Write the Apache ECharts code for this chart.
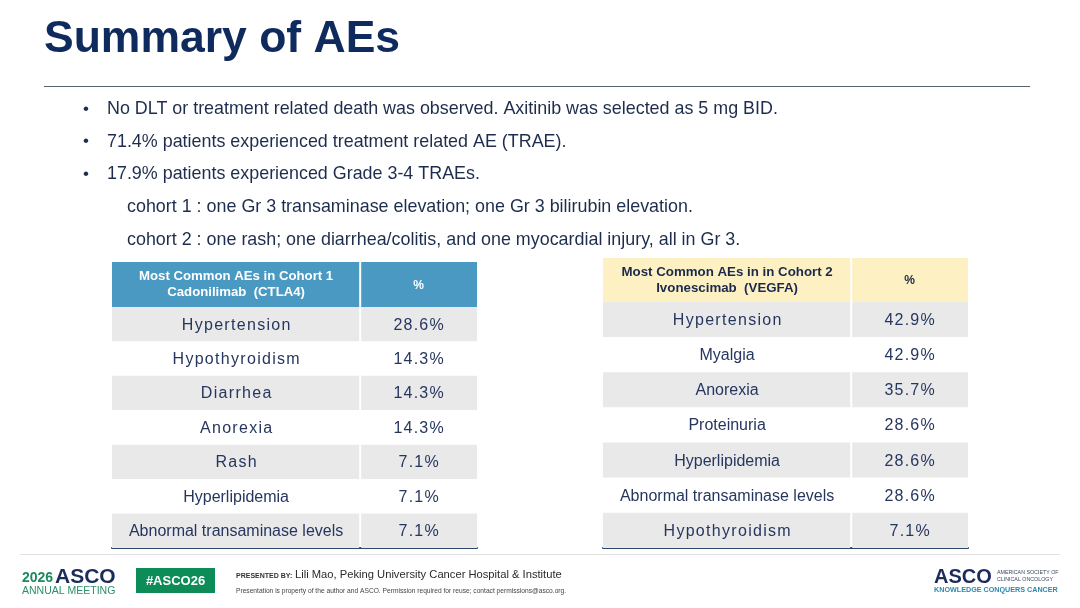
<!DOCTYPE html>
<html>
<head>
<meta charset="utf-8">
<title>Summary of AEs</title>
<script src="https://cdn.jsdelivr.net/npm/echarts@6.0.0/dist/echarts.min.js"></script>
<style>
  html, body { margin: 0; padding: 0; background: #ffffff; }
  #main { width: 1080px; height: 608px; }
</style>
</head>
<body>
<div id="main"></div>
<script>
// data
const bullets = [
  'No DLT or treatment related death was observed. Axitinib was selected as 5 mg BID.',
  '71.4% patients experienced treatment related AE (TRAE).',
  '17.9% patients experienced Grade 3-4 TRAEs.'
];
const subLines = [
  'cohort 1 : one Gr 3 transaminase elevation; one Gr 3 bilirubin elevation.',
  'cohort 2 : one rash; one diarrhea/colitis, and one myocardial injury, all in Gr 3.'
];

const cohort1Header = ['Most Common AEs in Cohort 1', 'Cadonilimab  (CTLA4)'];
const cohort1Names = ['Hypertension', 'Hypothyroidism', 'Diarrhea', 'Anorexia', 'Rash', 'Hyperlipidemia', 'Abnormal transaminase levels'];
const cohort1Pct = [28.6, 14.3, 14.3, 14.3, 7.1, 7.1, 7.1];

const cohort2Header = ['Most Common AEs in in Cohort 2', 'Ivonescimab  (VEGFA)'];
const cohort2Names = ['Hypertension', 'Myalgia', 'Anorexia', 'Proteinuria', 'Hyperlipidemia', 'Abnormal transaminase levels', 'Hypothyroidism'];
const cohort2Pct = [42.9, 42.9, 35.7, 28.6, 28.6, 28.6, 7.1];

// rows typed with wider letter spacing on the slide (style only)
const spaced1 = ['Hypertension', 'Hypothyroidism', 'Diarrhea', 'Anorexia', 'Rash'];
const spaced2 = ['Hypertension', 'Hypothyroidism'];

const FONT = "'Liberation Sans', Arial, sans-serif";
const NAVY = '#0f2a5c';
const TXT = '#1e2d4d';
const CELL_TXT = '#26365e';
const CELL_FONT = '16px ' + FONT;
const COL_SPLIT = 0.68; // first column share of table width

var chart = echarts.init(document.getElementById('main'), null, { renderer: 'canvas' });

var measureCtx = document.createElement('canvas').getContext('2d');

// centred text with extra letter spacing, one glyph per element
function spacedText(str, cx, cy, font, fill, spacing) {
  measureCtx.font = font;
  var chars = str.split('');
  var widths = chars.map(function (ch) { return measureCtx.measureText(ch).width; });
  var total = widths.reduce(function (a, b) { return a + b; }, 0) + spacing * (chars.length - 1);
  var x = cx - total / 2;
  var out = [];
  chars.forEach(function (ch, i) {
    out.push({ type: 'text', style: { text: ch, x: x, y: cy, align: 'left', verticalAlign: 'middle', font: font, fill: fill } });
    x += widths[i] + spacing;
  });
  return { type: 'group', children: out };
}

function plainText(str, cx, cy, font, fill) {
  return { type: 'text', style: { text: str, x: cx, y: cy, align: 'center', verticalAlign: 'middle', font: font, fill: fill } };
}

// one table row: two cells + two labels
function rowRenderer(names, spacedList) {
  return function (params, api) {
    var idx = api.value(1);
    var left = api.coord([0, idx]);
    var mid = api.coord([COL_SPLIT, idx]);
    var right = api.coord([1, idx]);
    var h = api.size([0, 1])[1];
    var yTop = left[1] - h / 2;
    var yc = left[1] + 1;
    var fill = idx % 2 === 0 ? '#e9e9e9' : '#ffffff';
    var name = names[idx];
    var nameX = (left[0] + mid[0]) / 2;
    var nameEl = spacedList.indexOf(name) >= 0
      ? spacedText(name, nameX, yc, CELL_FONT, CELL_TXT, 1.3)
      : plainText(name, nameX, yc, CELL_FONT, CELL_TXT);
    return {
      type: 'group',
      children: [
        { type: 'rect', shape: { x: left[0], y: yTop, width: mid[0] - left[0] - 1, height: h }, style: { fill: fill } },
        { type: 'rect', shape: { x: mid[0] + 1, y: yTop, width: right[0] - mid[0] - 1, height: h }, style: { fill: fill } },
        nameEl,
        spacedText(api.value(2).toFixed(1) + '%', (mid[0] + right[0]) / 2, yc, CELL_FONT, CELL_TXT, 1.2)
      ]
    };
  };
}

function headerGraphic(x, y, w, h, fill, color, size, lines) {
  var split = x + w * COL_SPLIT;
  var f = 'bold ' + size + 'px ' + FONT;
  return [
    { type: 'rect', shape: { x: x, y: y, width: split - x - 1, height: h }, style: { fill: fill } },
    { type: 'rect', shape: { x: split + 1, y: y, width: x + w - split - 1, height: h }, style: { fill: fill } },
    { type: 'text', style: { text: lines[0], x: (x + split) / 2, y: y + h / 2 - 8, align: 'center', verticalAlign: 'middle', font: f, fill: color } },
    { type: 'text', style: { text: lines[1], x: (x + split) / 2, y: y + h / 2 + 8, align: 'center', verticalAlign: 'middle', font: f, fill: color } },
    { type: 'text', style: { text: '%', x: (split + x + w) / 2, y: y + h / 2 + 1, align: 'center', verticalAlign: 'middle', font: 'bold 12px ' + FONT, fill: color } }
  ];
}

var graphics = [
  { type: 'text', style: { text: 'Summary of AEs', x: 44, y: 40, verticalAlign: 'middle', font: 'bold 44.5px ' + FONT, fill: NAVY } },
  { type: 'line', shape: { x1: 44, y1: 86.5, x2: 1030, y2: 86.5 }, style: { stroke: '#56636e', lineWidth: 1 } },
  // footer rule
  { type: 'line', shape: { x1: 20, y1: 554.5, x2: 1060, y2: 554.5 }, style: { stroke: '#e2e2e2', lineWidth: 1 } }
];

bullets.forEach(function (t, i) {
  var y = 109 + i * 32.6;
  graphics.push({ type: 'text', style: { text: '•', x: 83, y: y, verticalAlign: 'middle', font: '17px ' + FONT, fill: TXT } });
  graphics.push({ type: 'text', style: { text: t, x: 107, y: y, verticalAlign: 'middle', font: '17.9px ' + FONT, fill: TXT } });
});
subLines.forEach(function (t, i) {
  graphics.push({ type: 'text', style: { text: t, x: 127, y: 207 + i * 33, verticalAlign: 'middle', font: '17.9px ' + FONT, fill: TXT } });
});

graphics = graphics.concat(
  headerGraphic(112, 262, 365, 45, '#4a99c2', '#ffffff', 13.2, cohort1Header),
  headerGraphic(603, 258, 365, 44, '#fdf1c3', '#1b2a4c', 13.3, cohort2Header)
);

// footer: left meeting logo and presenter
graphics.push(
  { type: 'text', style: { text: '2026', x: 22, y: 578, verticalAlign: 'middle', font: 'bold 14px ' + FONT, fill: '#1d8a5e' } },
  { type: 'text', style: { text: 'ASCO', x: 55, y: 577, verticalAlign: 'middle', font: 'bold 21px ' + FONT, fill: '#1a2b5c' } },
  { type: 'text', style: { text: 'ANNUAL MEETING', x: 22, y: 591, verticalAlign: 'middle', font: '10.5px ' + FONT, fill: '#2a8f68' } },
  { type: 'rect', shape: { x: 136, y: 568, width: 79, height: 25 }, style: { fill: '#0e8c58' } },
  { type: 'text', style: { text: '#ASCO26', x: 175.5, y: 581, align: 'center', verticalAlign: 'middle', font: 'bold 13px ' + FONT, fill: '#ffffff' } },
  { type: 'text', style: { text: 'PRESENTED BY:', x: 236, y: 576, verticalAlign: 'middle', font: 'bold 7px ' + FONT, fill: '#333333' } },
  { type: 'text', style: { text: 'Lili Mao, Peking University Cancer Hospital & Institute', x: 295, y: 575, verticalAlign: 'middle', font: '11.2px ' + FONT, fill: '#2a2a2a' } },
  { type: 'text', style: { text: 'Presentation is property of the author and ASCO. Permission required for reuse; contact permissions@asco.org.', x: 236, y: 591, verticalAlign: 'middle', font: '6.65px ' + FONT, fill: '#444444' } },
  // right society logo
  { type: 'text', style: { text: 'ASCO', x: 934, y: 577, verticalAlign: 'middle', font: 'bold 20px ' + FONT, fill: '#1a2b5c' } },
  { type: 'text', style: { text: 'AMERICAN SOCIETY OF', x: 997, y: 573, verticalAlign: 'middle', font: '5.3px ' + FONT, fill: '#3a4660' } },
  { type: 'text', style: { text: 'CLINICAL ONCOLOGY', x: 997, y: 580, verticalAlign: 'middle', font: '5.3px ' + FONT, fill: '#3a4660' } },
  { type: 'text', style: { text: 'KNOWLEDGE CONQUERS CANCER', x: 934, y: 590, verticalAlign: 'middle', font: 'bold 7.2px ' + FONT, fill: '#2c88ad' } }
);

function tableAxes(gridIndex, names) {
  return {
    x: {
      type: 'value', gridIndex: gridIndex, min: 0, max: 1,
      axisLine: { show: true, onZero: false, lineStyle: { color: '#2f4a70', width: 2 } },
      axisTick: { show: false }, axisLabel: { show: false }, splitLine: { show: false }
    },
    y: {
      type: 'category', gridIndex: gridIndex, data: names, inverse: true,
      axisLine: { show: false }, axisTick: { show: false }, axisLabel: { show: false }, splitLine: { show: false }
    }
  };
}

var t1 = tableAxes(0, cohort1Names);
var t2 = tableAxes(1, cohort2Names);

var option = {
  backgroundColor: '#ffffff',
  animation: false,
  grid: [
    { left: 112, top: 307, width: 365, height: 241 },
    { left: 603, top: 302, width: 365, height: 246 }
  ],
  xAxis: [t1.x, t2.x],
  yAxis: [t1.y, t2.y],
  series: [
    {
      type: 'custom', xAxisIndex: 0, yAxisIndex: 0,
      renderItem: rowRenderer(cohort1Names, spaced1),
      encode: { x: 0, y: 1 },
      data: cohort1Names.map(function (n, i) { return [0, i, cohort1Pct[i]]; })
    },
    {
      type: 'custom', xAxisIndex: 1, yAxisIndex: 1,
      renderItem: rowRenderer(cohort2Names, spaced2),
      encode: { x: 0, y: 1 },
      data: cohort2Names.map(function (n, i) { return [0, i, cohort2Pct[i]]; })
    }
  ],
  graphic: graphics
};

chart.setOption(option);
</script>
</body>
</html>
